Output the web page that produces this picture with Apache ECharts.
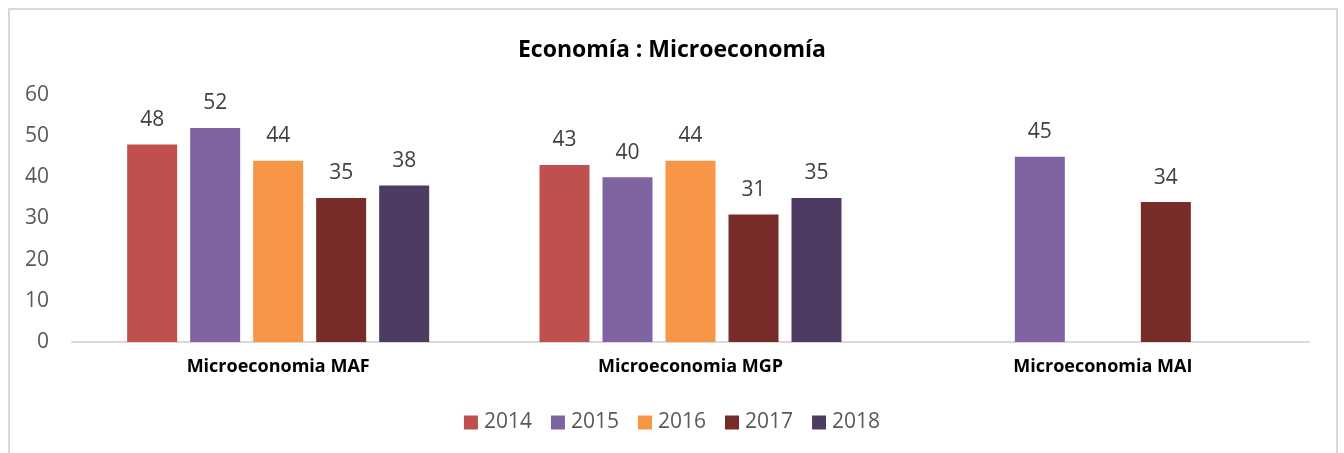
<!DOCTYPE html>
<html>
<head>
<meta charset="utf-8">
<script src="https://cdn.jsdelivr.net/npm/echarts@6/dist/echarts.min.js"></script>
<style>
html,body{margin:0;padding:0;background:#fff;}
#main{width:1344px;height:453px;}
</style>
</head>
<body>
<div id="main"></div>
<script>
const categories = ['Microeconomia MAF', 'Microeconomia MGP', 'Microeconomia MAI'];
const years = ['2014', '2015', '2016', '2017', '2018'];
const v2014 = [48, 43, null];
const v2015 = [52, 40, 45];
const v2016 = [44, 44, null];
const v2017 = [35, 31, 34];
const v2018 = [38, 35, null];
const yTicks = [0, 10, 20, 30, 40, 50, 60];

const seriesValues = [v2014, v2015, v2016, v2017, v2018];
const colors = ['#C0504D', '#8064A2', '#F79646', '#772C2A', '#4D3B62'];
const FONT = 'Open Sans';

const chart = echarts.init(document.getElementById('main'));
chart.setOption({
  animation: false,
  textStyle: { fontFamily: FONT },
  title: {
    text: 'Economía : Microeconomía',
    left: 'center',
    top: 34,
    textStyle: { fontFamily: FONT, fontSize: 23, fontWeight: 'bold', color: '#000' }
  },
  graphic: [{
    type: 'rect',
    shape: { x: 9, y: 9, width: 1328, height: 470 },
    style: { fill: 'none', stroke: '#d9d9d9', lineWidth: 2 },
    silent: true
  }],
  legend: {
    data: years,
    bottom: 15,
    left: 'center',
    itemWidth: 14,
    itemHeight: 14,
    itemGap: 19,
    icon: 'rect',
    textStyle: { fontFamily: FONT, fontSize: 21, color: '#595959', padding: [0, 0, 0, 1] }
  },
  grid: { left: 72, right: 35, top: 95, bottom: 111, containLabel: false },
  xAxis: {
    type: 'category',
    data: categories,
    axisLine: { show: true, lineStyle: { color: '#d9d9d9', width: 2 } },
    axisTick: { show: false },
    axisLabel: { fontFamily: FONT, fontSize: 18, fontWeight: 'bold', color: '#000', margin: 16 }
  },
  yAxis: {
    type: 'value',
    min: yTicks[0],
    max: yTicks[yTicks.length - 1],
    interval: 10,
    axisLine: { show: false },
    axisTick: { show: false },
    splitLine: { show: false },
    axisLabel: { fontFamily: FONT, fontSize: 21, color: '#595959', margin: 23 }
  },
  series: years.map((y, i) => ({
    name: y,
    type: 'bar',
    data: seriesValues[i],
    barWidth: 50,
    barGap: '26%',
    itemStyle: { color: colors[i] },
    label: {
      show: true,
      position: 'top',
      distance: 14,
      fontFamily: FONT,
      fontSize: 21,
      color: '#404040'
    }
  }))
});
</script>
</body>
</html>
